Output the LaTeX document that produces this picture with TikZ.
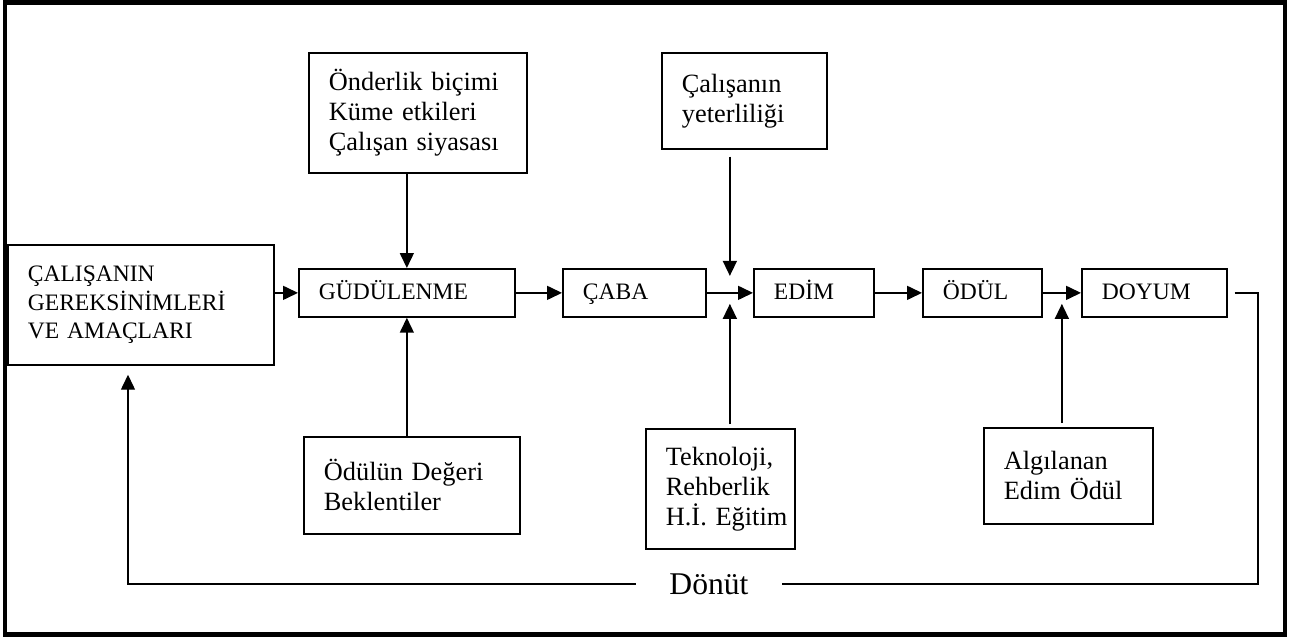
\documentclass[tikz,border=0pt]{standalone}
\usepackage{fontspec}
\setmainfont{Liberation Serif}
\usetikzlibrary{arrows.meta,calc,positioning}

\begin{document}
\begin{tikzpicture}[x=0.02cm,y=-0.02cm,
    box/.style={draw,line width=1pt,inner xsep=0.4cm,inner ysep=0pt,align=left,anchor=north west},
    capsfont/.style={font=\fontsize{13.4}{16.2}\selectfont},
    mainbox/.style={box,capsfont,text width=#1,minimum height=0.96cm,text height=0.7em,text depth=0pt},
    sidebox/.style={box,text width=#1,font=\fontsize{15}{17}\selectfont},
    arr/.style={-{Triangle[length=0.3cm,width=0.28cm]},line width=0.9pt},
    fb/.style={line width=0.8pt}]
    \useasboundingbox (0,0) rectangle (1305,639);
    \draw[line width=2.8pt] (5,2.5) rectangle (1285,634.5);

    \node[box,capsfont,text width=4.52cm,minimum height=2.4cm] (needs) at (7,244) {ÇALIŞANIN\\GEREKSİNİMLERİ\\VE AMAÇLARI};
    \node[mainbox=3.52cm] (gud) at (298,268) {GÜDÜLENME};
    \node[mainbox=2.06cm] (caba) at (562,268) {ÇABA};
    \node[mainbox=1.6cm] (edim) at (753,268) {EDİM};
    \node[mainbox=1.58cm] (odul) at (922,268) {ÖDÜL};
    \node[mainbox=2.1cm] (doyum) at (1081,268) {DOYUM};

    \node[sidebox=3.56cm,minimum height=2.4cm] (ond) at (308,52) {Önderlik biçimi\\Küme etkileri\\Çalışan siyasası};
    \node[sidebox=2.5cm,minimum height=1.92cm] (yet) at (661,52) {Çalışanın\\yeterliliği};
    \node[sidebox=3.52cm,minimum height=1.94cm] (odv) at (303,436) {Ödülün Değeri\\Beklentiler};
    \node[sidebox=2.18cm,minimum height=2.4cm] (tek) at (645,428) {Teknoloji,\\Rehberlik\\H.İ.~Eğitim};
    \node[sidebox=2.58cm,minimum height=1.92cm] (alg) at (983,427) {Algılanan\\Edim Ödül};

    \node[font=\fontsize{18}{20}\selectfont,inner xsep=0.67cm,inner ysep=0pt] (don) at (709,584) {Dönüt};

    \coordinate (j1) at ($(caba.east)!0.5!(edim.west)$);
    \coordinate (j2) at ($(odul.east)!0.5!(doyum.west)$);
    \coordinate (c1) at (1258,584);
    \coordinate (c2) at (128,584);

    \draw[arr] (needs.east |- gud.west) -- (gud.west);
    \draw[arr] (gud) -- (caba);
    \draw[arr] (caba) -- (edim);
    \draw[arr] (edim) -- (odul);
    \draw[arr] (odul) -- (doyum);

    \draw[arr] (ond.south -| gud.north) -- (gud.north);
    \draw[arr] (odv.north -| gud.south) -- (gud.south);
    \draw[arr] ([yshift=-0.14cm]yet.south -| j1) -- ([yshift=0.34cm]j1);
    \draw[arr] ([yshift=0.08cm]tek.north -| j1) -- ([yshift=-0.22cm]j1);
    \draw[arr] ([yshift=0.08cm]alg.north -| j2) -- ([yshift=-0.22cm]j2);

    \draw[fb] ([xshift=0.14cm]doyum.east) -| (c1) -- (don.east);
    \draw[fb,arr,line width=0.8pt] (don.west) -- (c2) -- ([yshift=-0.18cm]needs.south -| c2);
  \end{tikzpicture}
\end{document}
